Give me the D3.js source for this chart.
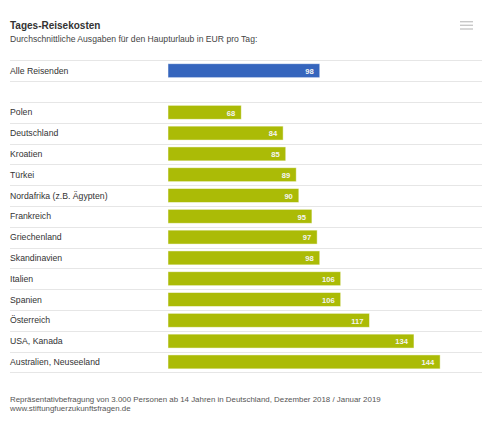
<!DOCTYPE html>
<html>
<head>
<meta charset="utf-8">
<script src="https://cdn.jsdelivr.net/npm/d3@7/dist/d3.min.js"></script>
<style>
  html, body { margin: 0; padding: 0; background: #fff; }
  svg { display: block; font-family: "Liberation Sans", Arial, sans-serif; }
</style>
</head>
<body>
<svg id="chart" width="491" height="423"></svg>
<script>
const title = "Tages-Reisekosten";
const subtitle = "Durchschnittliche Ausgaben für den Haupturlaub in EUR pro Tag:";
const categories = ["Alle Reisenden", "", "Polen", "Deutschland", "Kroatien", "Türkei",
  "Nordafrika (z.B. Ägypten)", "Frankreich", "Griechenland", "Skandinavien", "Italien",
  "Spanien", "Österreich", "USA, Kanada", "Australien, Neuseeland"];
const values = [98, null, 68, 84, 85, 89, 90, 95, 97, 98, 106, 106, 117, 134, 144];
const groups = ["total", "none", "country", "country", "country", "country", "country",
  "country", "country", "country", "country", "country", "country", "country", "country"];
const footer = ["Repräsentativbefragung von 3.000 Personen ab 14 Jahren in Deutschland, Dezember 2018 / Januar 2019",
  "www.stiftungfuerzukunftsfragen.de"];
const xDomain = [40, 160];

const colors = { total: "#3565bd", country: "#abbb06", none: "none" };

const svg = d3.select("#chart");
const keys = categories.map((c, i) => i);

const x = d3.scaleLinear().domain(xDomain).range([168, 482]);
const y = d3.scaleBand().domain(keys).range([60.3, 372.3]).paddingInner(0.33).paddingOuter(0.165);

// title / subtitle
svg.append("text").attr("x", 10).attr("y", 28.5).attr("fill", "#333")
  .style("font-size", "10px").style("font-weight", "bold").text(title);
svg.append("text").attr("x", 10).attr("y", 42).attr("fill", "#444")
  .style("font-size", "8.6px").text(subtitle);

// menu icon
const menuY = [21.7, 25.3, 29];
svg.append("g").selectAll("line").data(menuY).join("line")
  .attr("x1", 460).attr("x2", 473).attr("y1", d => d).attr("y2", d => d)
  .attr("stroke", "#c8c8c8").attr("stroke-width", 1.4);

// grid lines at band boundaries
const step = y.step();
const gridYs = keys.map((k, i) => y.range()[0] + i * step).concat([y.range()[1]]);
svg.append("g").selectAll("line").data(gridYs).join("line")
  .attr("x1", 10).attr("x2", 482)
  .attr("y1", d => Math.round(d) + 0.5).attr("y2", d => Math.round(d) + 0.5)
  .attr("stroke", "#e6e6e6").attr("stroke-width", 1);

// category labels
svg.append("g").selectAll("text").data(keys).join("text")
  .attr("x", 10)
  .attr("y", k => y(k) + y.bandwidth() / 2 + 3)
  .attr("fill", "#333")
  .style("font-size", "8.7px")
  .text(k => categories[k]);

// bars
const data = keys.filter(k => values[k] != null);
svg.append("g").selectAll("rect").data(data).join("rect")
  .attr("x", x(xDomain[0]))
  .attr("y", k => y(k))
  .attr("width", k => x(values[k]) - x(xDomain[0]))
  .attr("height", y.bandwidth())
  .attr("fill", k => colors[groups[k]])
  .attr("stroke", "rgba(255,255,255,0.6)")
  .attr("stroke-width", 0.8);

// data labels
svg.append("g").selectAll("text").data(data).join("text")
  .attr("x", k => x(values[k]) - 6)
  .attr("y", k => y(k) + y.bandwidth() / 2 + 3.2)
  .attr("text-anchor", "end")
  .attr("fill", "#f4f4f4")
  .style("font-size", "7.6px").style("font-weight", "bold")
  .text(k => values[k]);

// footer
svg.append("g").selectAll("text").data(footer).join("text")
  .attr("x", 10).attr("y", (d, i) => 402 + i * 8.5)
  .attr("fill", "#555")
  .style("font-size", "7.9px")
  .text(d => d);
</script>
</body>
</html>
